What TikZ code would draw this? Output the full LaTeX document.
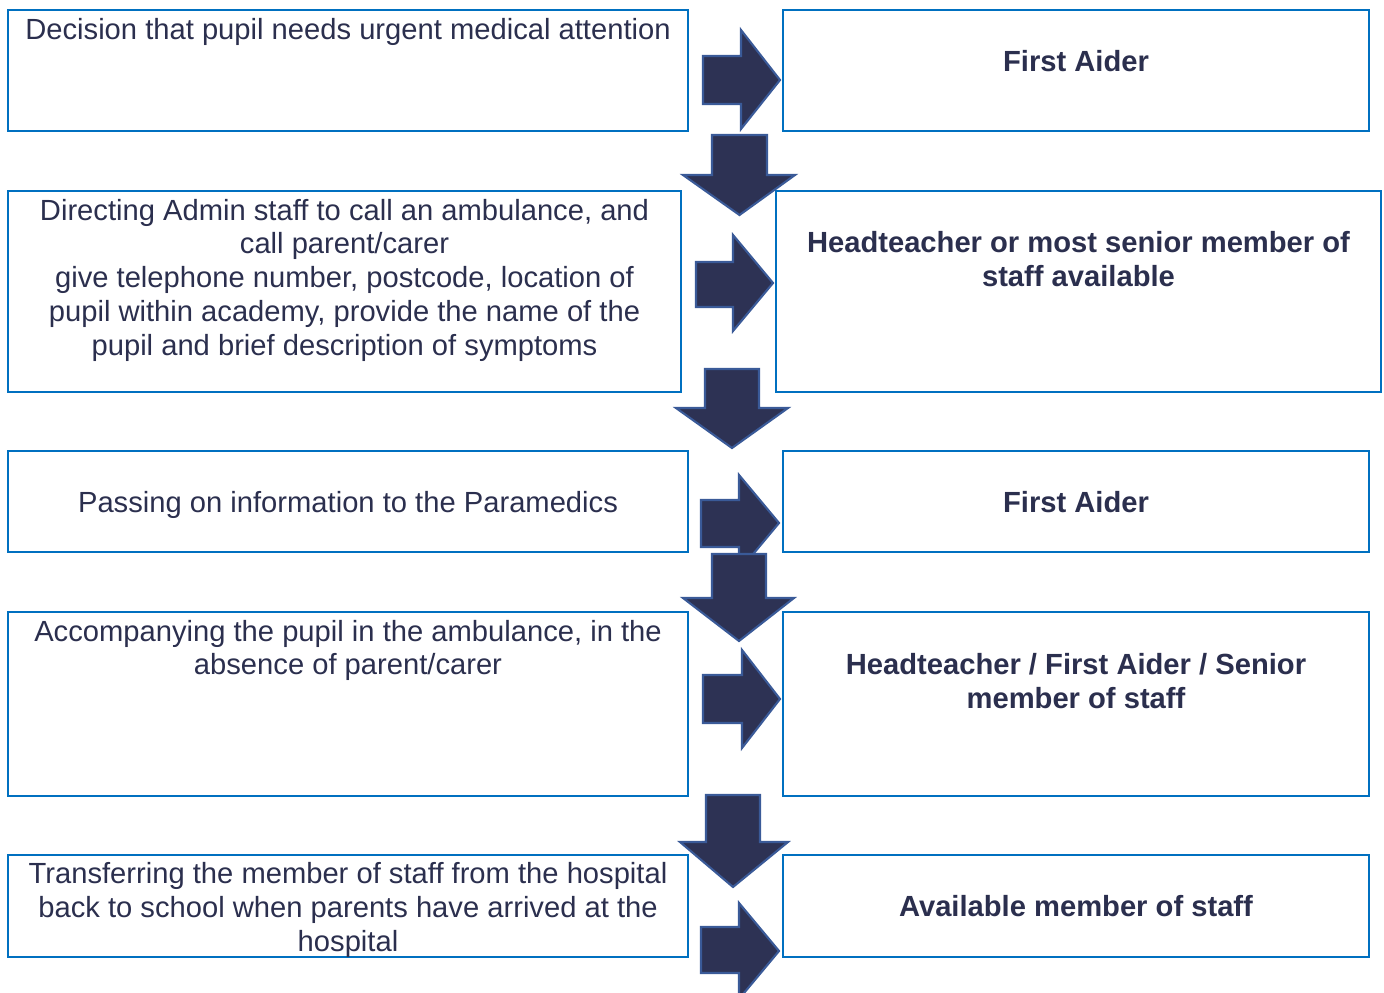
\documentclass[tikz,border=0pt]{standalone}
\usepackage{fontspec}
\setmainfont{Liberation Sans}
\usetikzlibrary{positioning}

\definecolor{boxblue}{HTML}{0070C0}
\definecolor{navyfill}{HTML}{2D3254}
\definecolor{navyedge}{HTML}{3A5A98}
\definecolor{navytext}{HTML}{2B2F4E}

\tikzset{
  flowbox/.style={draw=boxblue, line width=1.1pt, rectangle, inner sep=0pt, outer sep=0pt},
  flowtext/.style={anchor=north, align=center, inner sep=0pt, text=navytext,
    font=\fontsize{16.6}{19.3}\selectfont},
  rolltext/.style={flowtext, font=\fontsize{16.6}{19.3}\selectfont\bfseries},
  blockarrow/.style={fill=navyfill, draw=navyedge, line width=1.2pt, line join=miter}
}

\begin{document}
\begin{tikzpicture}[x=0.02cm,y=-0.02cm]
	\useasboundingbox (0,0) rectangle (1384,993);
	% boxes: task on the left, who does it on the right
	\node[flowbox, minimum width=13.6cm, minimum height=2.42cm] (task1) at (348,70.5) {};
	\node[flowbox, minimum width=11.72cm, minimum height=2.42cm] (who1) at (1076,70.5) {};
	\node[flowbox, minimum width=13.46cm, minimum height=4.02cm] (task2) at (344.5,291.5) {};
	\node[flowbox, minimum width=12.1cm, minimum height=4.02cm] (who2) at (1078.5,291.5) {};
	\node[flowbox, minimum width=13.6cm, minimum height=2.02cm] (task3) at (348,501.5) {};
	\node[flowbox, minimum width=11.72cm, minimum height=2.02cm] (who3) at (1076,501.5) {};
	\node[flowbox, minimum width=13.6cm, minimum height=3.68cm] (task4) at (348,704) {};
	\node[flowbox, minimum width=11.72cm, minimum height=3.68cm] (who4) at (1076,704) {};
	\node[flowbox, minimum width=13.6cm, minimum height=2.04cm] (task5) at (348,906) {};
	\node[flowbox, minimum width=11.72cm, minimum height=2.04cm] (who5) at (1076,906) {};

	% texts
	\node[flowtext, below=0.16cm of task1.north] (task1txt) {Decision that pupil needs urgent medical attention};
	\node[rolltext, below=0.81cm of who1.north] (who1txt) {First Aider};
	\node[flowtext, below=0.15cm of task2.north] (task2txt) {Directing Admin staff to call an ambulance, and\\call parent/carer\\give telephone number, postcode, location of\\pupil within academy, provide the name of the\\pupil and brief description of symptoms};
	\node[rolltext, below=0.81cm of who2.north] (who2txt) {Headteacher or most senior member of\\staff available};
	\node[flowtext, below=0.81cm of task3.north] (task3txt) {Passing on information to the Paramedics};
	\node[rolltext, below=0.81cm of who3.north] (who3txt) {First Aider};
	\node[flowtext, below=0.15cm of task4.north] (task4txt) {Accompanying the pupil in the ambulance, in the\\absence of parent/carer};
	\node[rolltext, below=0.83cm of who4.north] (who4txt) {Headteacher / First Aider / Senior\\member of staff};
	\node[flowtext, below=0.15cm of task5.north] (task5txt) {Transferring the member of staff from the hospital\\back to school when parents have arrived at the\\hospital};
	\node[rolltext, below=0.81cm of who5.north] (who5txt) {Available member of staff};

	% block arrows
	\draw[blockarrow] (703,56) -- (741,56) -- (741,30) -- (780,80) -- (741,129) -- (741,104) -- (703,104) -- cycle;
	\draw[blockarrow] (712,135) -- (767,135) -- (767,175) -- (795,175) -- (739.5,215) -- (683,175) -- (712,175) -- cycle;
	\draw[blockarrow] (696,262) -- (733,262) -- (733,235) -- (773,283) -- (733,331) -- (733,307) -- (696,307) -- cycle;
	\draw[blockarrow] (705,369) -- (759,369) -- (759,408) -- (788,408) -- (732,448) -- (676,408) -- (705,408) -- cycle;
	\draw[blockarrow] (701,500) -- (739,500) -- (739,475) -- (779,523) -- (739,571) -- (739,547) -- (701,547) -- cycle;
	\draw[blockarrow] (712,554) -- (766,554) -- (766,598) -- (794,598) -- (739,641) -- (683,598) -- (712,598) -- cycle;
	\draw[blockarrow] (703,675) -- (742,675) -- (742,650) -- (780,699) -- (742,748) -- (742,723) -- (703,723) -- cycle;
	\draw[blockarrow] (706,795) -- (760,795) -- (760,842) -- (788,842) -- (733,887) -- (680,842) -- (706,842) -- cycle;
	\draw[blockarrow] (701,927) -- (739,927) -- (739,903) -- (779,951) -- (739,999) -- (739,973) -- (701,973) -- cycle;
\end{tikzpicture}
\end{document}
